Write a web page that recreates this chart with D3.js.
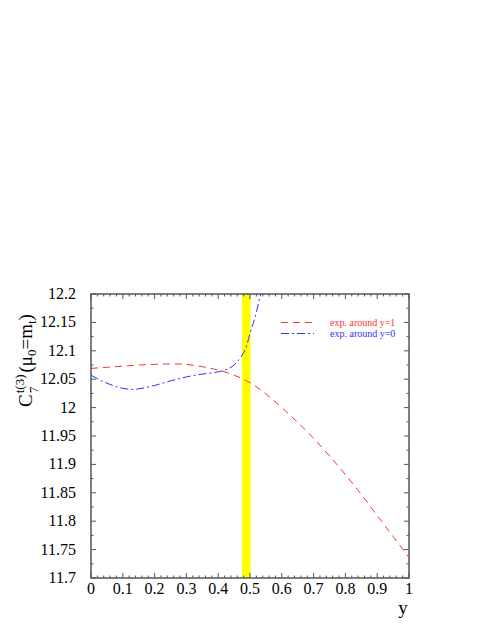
<!DOCTYPE html>
<html><head><meta charset="utf-8">
<script src="https://cdn.jsdelivr.net/npm/d3@7"></script>
<style>body{margin:0;background:#fff}svg{display:block}</style>
</head><body>
<svg id="c" width="491" height="635"></svg>
<script>
// data
const redX = [0,0.05,0.1,0.15,0.2,0.25,0.3,0.35,0.4,0.45,0.5,0.55,0.6,0.65,0.7,0.75,0.8,0.85,0.9,0.95,1.0];
const redY = [12.069,12.071,12.073,12.075,12.076,12.077,12.076,12.072,12.066,12.057,12.044,12.024,12.0,11.974,11.946,11.915,11.882,11.847,11.81,11.773,11.736];
const blueX = [0,0.05,0.1,0.125,0.15,0.2,0.25,0.3,0.35,0.4,0.43,0.45,0.47,0.49,0.5,0.51,0.52,0.53,0.54];
const blueY = [12.057,12.043,12.034,12.032,12.033,12.039,12.047,12.054,12.059,12.063,12.068,12.075,12.088,12.11,12.131,12.148,12.168,12.192,12.215];
const band = [0.475, 0.502];
const xTicks = [0,0.1,0.2,0.3,0.4,0.5,0.6,0.7,0.8,0.9,1];
const xTickLabels = ["0","0.1","0.2","0.3","0.4","0.5","0.6","0.7","0.8","0.9","1"];
const yTicks = [11.7,11.75,11.8,11.85,11.9,11.95,12,12.05,12.1,12.15,12.2];
const yTickLabels = ["11.7","11.75","11.8","11.85","11.9","11.95","12","12.05","12.1","12.15","12.2"];
const legendLabels = ["exp. around y=1","exp. around y=0"];

const svg = d3.select("#c");
const L=91,R=409,T=294,B=578;
const x = d3.scaleLinear().domain([0,1]).range([L,R]);
const y = d3.scaleLinear().domain([11.7,12.2]).range([B,T]);
const font = "'Liberation Serif','Times New Roman',serif";
const axisCol = "#555";

svg.append("clipPath").attr("id","clip").append("rect")
  .attr("x",L).attr("y",T).attr("width",R-L).attr("height",B-T);

// band
svg.append("rect").attr("x",x(band[0])).attr("y",T)
  .attr("width",x(band[1])-x(band[0])).attr("height",B-T).attr("fill","#ffff00");

// curves
const line = d3.line().x(d=>x(d[0])).y(d=>y(d[1])).curve(d3.curveMonotoneX);
svg.append("path").datum(redX.map((v,i)=>[v,redY[i]]))
  .attr("d",line).attr("fill","none").attr("stroke","#ff3030").attr("stroke-width",1)
  .attr("stroke-dasharray","7,5").attr("clip-path","url(#clip)");
svg.append("path").datum(blueX.map((v,i)=>[v,blueY[i]]))
  .attr("d",line).attr("fill","none").attr("stroke","#3030ff").attr("stroke-width",1)
  .attr("stroke-dasharray","8,3,2,3").attr("clip-path","url(#clip)");

// frame
svg.append("rect").attr("x",L).attr("y",T).attr("width",R-L).attr("height",B-T)
  .attr("fill","none").attr("stroke",axisCol).attr("stroke-width",1.5);

// ticks
const g = svg.append("g").attr("stroke",axisCol).attr("stroke-width",1);
const xMinor = d3.range(0,1.0001,0.02);
xMinor.forEach(v=>{
  const major = Math.abs(v*10-Math.round(v*10))<1e-6;
  const len = major?5:2.5;
  g.append("line").attr("x1",x(v)).attr("x2",x(v)).attr("y1",B).attr("y2",B-len);
  g.append("line").attr("x1",x(v)).attr("x2",x(v)).attr("y1",T).attr("y2",T+len);
});
const yMinor = d3.range(0,21).map(i=>11.7+i*0.025);
yMinor.forEach((v,i)=>{
  const len = i%2===0?5:2.5;
  g.append("line").attr("x1",L).attr("x2",L+len).attr("y1",y(v)).attr("y2",y(v));
  g.append("line").attr("x1",R).attr("x2",R-len).attr("y1",y(v)).attr("y2",y(v));
});

// tick labels
svg.append("g").selectAll("text").data(xTicks).join("text")
  .attr("x",d=>x(d)).attr("y",B+16).attr("text-anchor","middle")
  .attr("font-family",font).attr("font-size",16).attr("fill","#000")
  .text((d,i)=>xTickLabels[i]);
svg.append("g").selectAll("text").data(yTicks).join("text")
  .attr("x",L-15).attr("y",d=>y(d)+5).attr("text-anchor","end")
  .attr("font-family",font).attr("font-size",16).attr("fill","#000")
  .text((d,i)=>yTickLabels[i]);

// x title
svg.append("text").attr("x",403).attr("y",614).attr("text-anchor","middle")
  .attr("font-family",font).attr("font-size",19).text("y");

// y title
const yt = svg.append("g").attr("transform","translate(32,407) rotate(-90)")
  .attr("font-family",font).attr("fill","#000");
const t1 = yt.append("text").attr("x",0).attr("y",0).attr("font-size",19);
t1.append("tspan").text("C");
t1.append("tspan").attr("font-size",13).attr("dy",-8).attr("dx",1).text("t(3)");
t1.append("tspan").attr("font-size",19).attr("dy",8).attr("dx",2).text("(μ");
t1.append("tspan").attr("font-size",13).attr("dy",4).text("0");
t1.append("tspan").attr("font-size",19).attr("dy",-4).text("=m");
t1.append("tspan").attr("font-size",13).attr("dy",4).text("t");
t1.append("tspan").attr("font-size",19).attr("dy",-4).text(")");
yt.append("text").attr("x",14).attr("y",6).attr("font-size",13).text("7");

// legend
const lg = svg.append("g");
[[legendLabels[0],"#ff3030","7,5",322.5],[legendLabels[1],"#3030ff","8,3,2,3",333.5]].forEach(d=>{
  lg.append("line").attr("x1",281).attr("x2",314).attr("y1",d[3]).attr("y2",d[3])
    .attr("stroke",d[1]).attr("stroke-width",1).attr("stroke-dasharray",d[2]);
  lg.append("text").attr("x",330).attr("y",d[3]+3.5).attr("font-family",font)
    .attr("font-size",10).attr("fill",d[1]).text(d[0]);
});
</script>
</body></html>
